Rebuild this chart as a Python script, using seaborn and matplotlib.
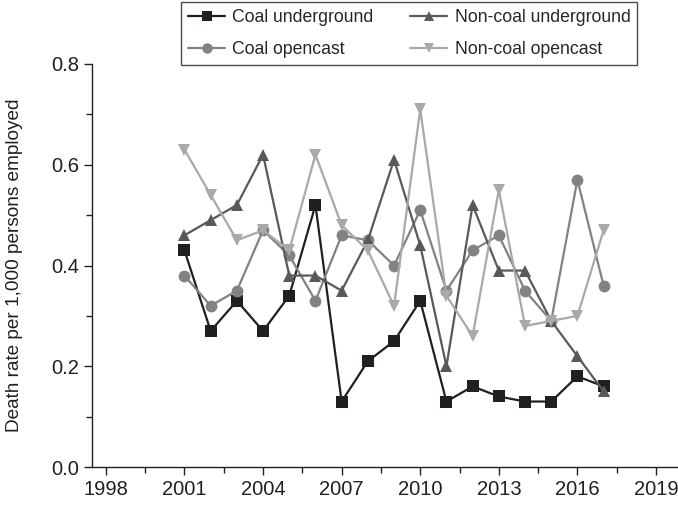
import matplotlib
matplotlib.use("Agg")
import matplotlib.pyplot as plt
from matplotlib.ticker import MultipleLocator
import numpy as np
import pandas as pd
import seaborn as sns

years = list(range(2001, 2018))
coal_underground = [0.43, 0.27, 0.33, 0.27, 0.34, 0.52, 0.13, 0.21, 0.25, 0.33,
                    0.13, 0.16, 0.14, 0.13, 0.13, 0.18, 0.16]
coal_opencast = [0.38, 0.32, 0.35, 0.47, 0.42, 0.33, 0.46, 0.45, 0.40, 0.51,
                 0.35, 0.43, 0.46, 0.35, 0.29, 0.57, 0.36]
noncoal_underground = [0.46, 0.49, 0.52, 0.62, 0.38, 0.38, 0.35, 0.45, 0.61, 0.44,
                       0.20, 0.52, 0.39, 0.39, 0.29, 0.22, 0.15]
noncoal_opencast = [0.63, 0.54, 0.45, 0.47, 0.43, 0.62, 0.48, 0.43, 0.32, 0.71,
                    0.34, 0.26, 0.55, 0.28, 0.29, 0.30, 0.47]

series_names = ["Coal underground", "Coal opencast",
                "Non-coal underground", "Non-coal opencast"]
x_ticks = [1998, 2001, 2004, 2007, 2010, 2013, 2016, 2019]
y_ticks = [0.0, 0.2, 0.4, 0.6, 0.8]

df = pd.DataFrame({
    "year": years * 4,
    "rate": coal_underground + coal_opencast + noncoal_underground + noncoal_opencast,
    "series": [n for n in series_names for _ in years],
})

palette = {
    "Coal underground": "#231f20",
    "Coal opencast": "#808285",
    "Non-coal underground": "#58595b",
    "Non-coal opencast": "#a7a9ac",
}
markers = {
    "Coal underground": "s",
    "Coal opencast": "o",
    "Non-coal underground": "^",
    "Non-coal opencast": "v",
}

sns.set_style("ticks")
plt.rcParams["font.family"] = ["Liberation Sans", "DejaVu Sans"]

fig = plt.figure(figsize=(6.78, 5.05), dpi=100)
ax = fig.add_axes([0.1357, 0.0752, 0.8643, 0.7981])

sns.lineplot(data=df, x="year", y="rate", hue="series", style="series",
             hue_order=series_names, style_order=series_names,
             palette=palette, markers=markers, dashes=False,
             markersize=8.5, markeredgewidth=0, linewidth=1.6, ax=ax)

handles, labels = ax.get_legend_handles_labels()
ax.get_legend().remove()
for h in handles:
    h.set_markersize(7.5)
    h.set_linewidth(1.6)
leg = fig.legend(handles, labels, ncol=2, loc="upper left",
                 bbox_to_anchor=(181 / 678, 1 - 2 / 505),
                 frameon=True, fancybox=False, fontsize=12.7,
                 handlelength=2.1, handletextpad=0.4, columnspacing=2.1,
                 borderpad=0.4, labelspacing=0.85, borderaxespad=0)
leg.get_frame().set_edgecolor("#231f20")
leg.get_frame().set_linewidth(1.0)

ax.set_xlim(1997.47, 2019.84)
ax.set_ylim(0, 0.8)
ax.set_xticks(x_ticks)
ax.set_xticklabels([str(t) for t in x_ticks])
ax.set_yticks(y_ticks)
ax.set_yticklabels([f"{t:.1f}" for t in y_ticks])
ax.xaxis.set_minor_locator(MultipleLocator(1.5))
ax.yaxis.set_minor_locator(MultipleLocator(0.1))
ax.tick_params(axis="both", which="major", length=6, width=1, color="#231f20",
               labelsize=14.5, labelcolor="#231f20", direction="out", pad=3)
ax.tick_params(axis="both", which="minor", length=4, width=1, color="#231f20",
               direction="out")
ax.set_xlabel("")
ax.set_ylabel("Death rate per 1,000 persons employed", fontsize=13.7,
              color="#231f20")
ax.yaxis.set_label_coords(-0.118, 0.5)

sns.despine(ax=ax)
for side in ["left", "bottom"]:
    ax.spines[side].set_color("#231f20")
    ax.spines[side].set_linewidth(1.0)

fig.savefig("out.png", dpi=100)
